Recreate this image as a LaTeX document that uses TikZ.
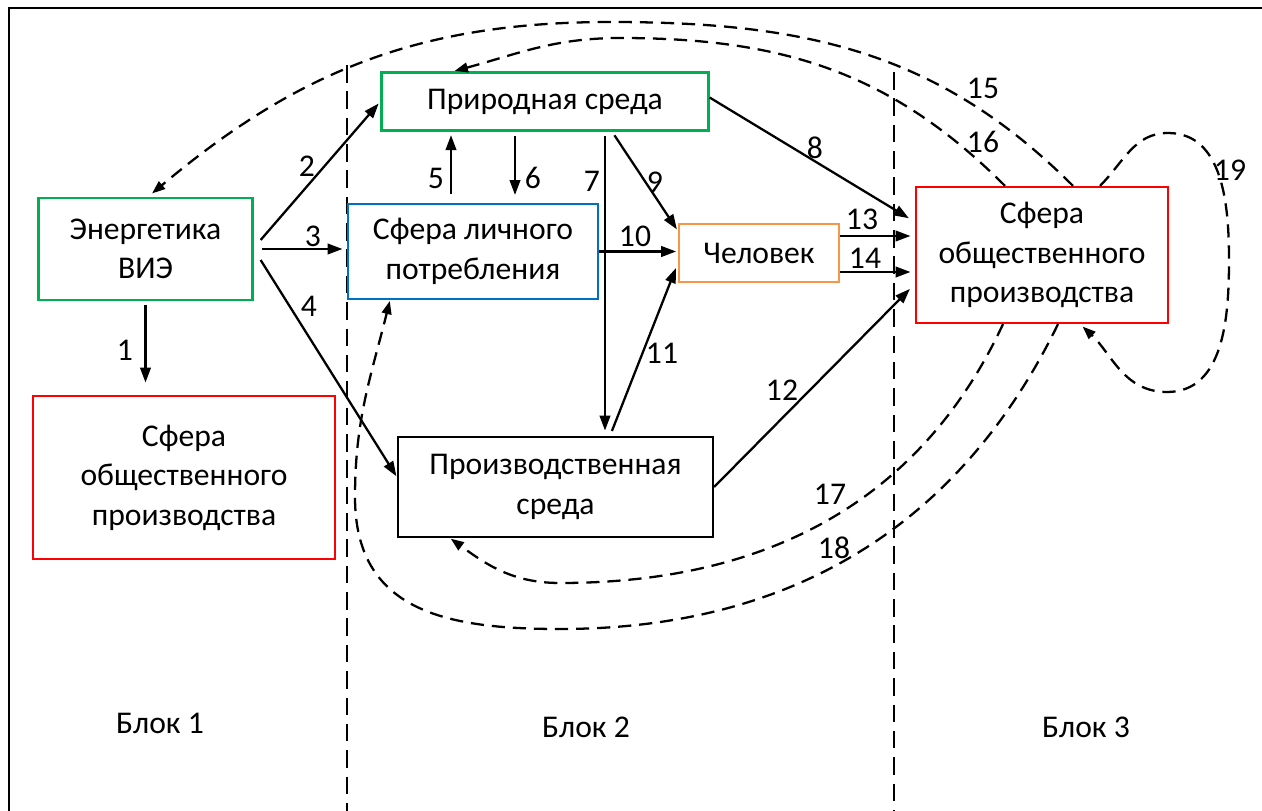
\documentclass[tikz,border=0pt]{standalone}
\usepackage{fontspec}
\setmainfont{Carlito}
\usepackage{xcolor}
\usepackage{tikz}
\usetikzlibrary{arrows.meta}

\definecolor{boxgreen}{RGB}{0,176,80}
\definecolor{boxblue}{RGB}{0,112,192}
\definecolor{boxorange}{RGB}{247,150,70}
\definecolor{boxred}{RGB}{255,0,0}

\begin{document}
\begin{tikzpicture}[x=0.02cm,y=0.02cm,
      box/.style={draw,line width=1.3pt,align=center,inner sep=0pt,font=\fontsize{18}{22.5}\selectfont},
      num/.style={inner sep=1pt,font=\fontsize{18}{20}\selectfont},
      link/.style={line width=1.3pt,-{Triangle[length=8.5pt,width=6pt]}},
      back/.style={line width=1.3pt,dash pattern=on 7.5pt off 4.5pt,-{Triangle[length=7.5pt,width=5.5pt]}},
      border/.style={line width=1.3pt,dash pattern=on 10pt off 5pt}
]
\useasboundingbox (0,0) rectangle (1262,-811);
\draw[line width=1.5pt] (1262,-8) -- (9,-8) -- (9,-811);
\draw[border] (347,-65) -- (347,-811);
\draw[border] (894,-72) -- (894,-811);

\node[box,draw=boxgreen,minimum width=4.28cm,minimum height=2.04cm] (energy) at (145.5,-249) {Энергетика\\ВИЭ};
\node[box,draw=boxred,minimum width=6.04cm,minimum height=3.26cm] (sphereL) at (184,-477.5) {Сфера\\общественного\\производства};
\node[box,draw=boxgreen,minimum width=6.54cm,minimum height=1.16cm] (nature) at (545,-101.5) {Природная среда};
\node[box,draw=boxblue,minimum width=5cm,minimum height=1.9cm] (consum) at (473,-251.5) {Сфера личного\\потребления};
\node[box,draw=boxorange,minimum width=3.2cm,minimum height=1.16cm] (human) at (759,-253) {Человек};
\node[box,draw=black,minimum width=6.3cm,minimum height=2cm] (industry) at (555.5,-487) {Производственная\\среда};
\node[box,draw=boxred,minimum width=5.04cm,minimum height=2.72cm] (sphereR) at (1042,-255) {Сфера\\общественного\\производства};

\node[num] (blk1) at (160,-723) {Блок 1};
\node[num] (blk2) at (586,-727) {Блок 2};
\node[num] (blk3) at (1086,-727) {Блок 3};

% solid links
\coordinate (fanup) at ([shift={(7,9)}]energy.east);
\coordinate (fanmid) at ([shift={(8,0)}]energy.east);
\coordinate (fanlow) at ([shift={(7,-11)}]energy.east);
\coordinate (h13) at ([shift={(0,17)}]human.east);
\coordinate (h14) at ([shift={(0,-19)}]human.east);
\draw[link,shorten <=2pt,shorten >=7pt] (energy.south) -- (energy.south |- sphereL.north);
\draw[link,shorten >=1.5pt] (fanup) -- (nature.west);
\draw[link,shorten >=2.5pt] (fanmid) -- (fanmid -| consum.west);
\draw[link,shorten >=0.5pt] (fanlow) -- ([shift={(0,10)}]industry.west);
\draw[link,shorten <=5pt,shorten >=2pt] (451,0 |- consum.north) -- (451,0 |- nature.south);
\draw[link,shorten <=2.5pt,shorten >=4.5pt] (515,0 |- nature.south) -- (515,0 |- consum.north);
\draw[link,shorten <=2.5pt,shorten >=3pt] (605,0 |- nature.south) -- (605,0 |- industry.north);
\draw[link,shorten >=4pt] ([shift={(0,4)}]nature.east) -- ([shift={(0,-36)}]sphereR.north west);
\draw[link,shorten <=2.5pt,shorten >=1pt] (612,0 |- nature.south) -- ([shift={(0,-8)}]human.north west);
\draw[link,shorten >=1pt] (consum.east) -- (consum.east -| human.west);
\draw[link,shorten <=3pt,shorten >=3pt] (610,0 |- industry.north) -- ([shift={(0,20)}]human.south west);
\draw[link,shorten >=4pt] (industry.east) -- ([shift={(0,-98)}]sphereR.north west);
\draw[link,shorten >=2.5pt] (h13) -- (h13 -| sphereR.west);
\draw[link,shorten >=2.5pt] (h14) -- (h14 -| sphereR.west);

% dashed feedback
\coordinate (top15) at (610,-22);
\coordinate (top16) at (620,-38);
\coordinate (bot17) at (560,-583);
\coordinate (bot18) at (560,-629);
\coordinate (left18) at (355,-497);
\coordinate (up19) at (1168,-133);
\coordinate (right19) at (1229,-260);
\coordinate (down19) at (1167,-392);
\draw[back,shorten >=3pt] (1073,0 |- sphereR.north) to[out=135,in=0] (top15) to[out=180,in=40] (148,0 |- energy.north);
\draw[back,shorten >=1pt] (1005,0 |- sphereR.north) to[out=135,in=0] (top16) to[out=180,in=15] (453,0 |- nature.north);
\draw[back,shorten >=0.5pt] (1003,0 |- sphereR.south) to[out=245,in=0] (bot17) to[out=180,in=-36] (450,0 |- industry.south);
\draw[back,shorten >=0.5pt] (1058,0 |- sphereR.south) to[out=244,in=0] (bot18) to[out=180,in=270,looseness=1.2] (left18) to[out=90,in=256] (390,0 |- consum.south);
\draw[back,shorten >=2pt] (1100,0 |- sphereR.north) to[out=45,in=180] (up19) to[out=0,in=90] (right19) to[out=-90,in=0] (down19) to[out=180,in=-43] (1080,0 |- sphereR.south);

% numbers
\node[num] (n1) at (125,-350) {1};
\node[num] (n2) at (307,-166) {2};
\node[num] (n3) at (313,-236) {3};
\node[num] (n4) at (309,-306) {4};
\node[num] (n5) at (436,-178) {5};
\node[num] (n6) at (533,-178) {6};
\node[num] (n7) at (592,-181) {7};
\node[num] (n8) at (815,-148) {8};
\node[num] (n9) at (655,-182) {9};
\node[num] (n10) at (635,-236) {10};
\node[num] (n11) at (662,-353) {11};
\node[num] (n12) at (782,-390) {12};
\node[num] (n13) at (862,-219) {13};
\node[num] (n14) at (865,-258) {14};
\node[num] (n15) at (983,-88) {15};
\node[num] (n16) at (983,-142) {16};
\node[num] (n17) at (830,-494) {17};
\node[num] (n18) at (834,-548) {18};
\node[num] (n19) at (1230,-170) {19};
\end{tikzpicture}
\end{document}
